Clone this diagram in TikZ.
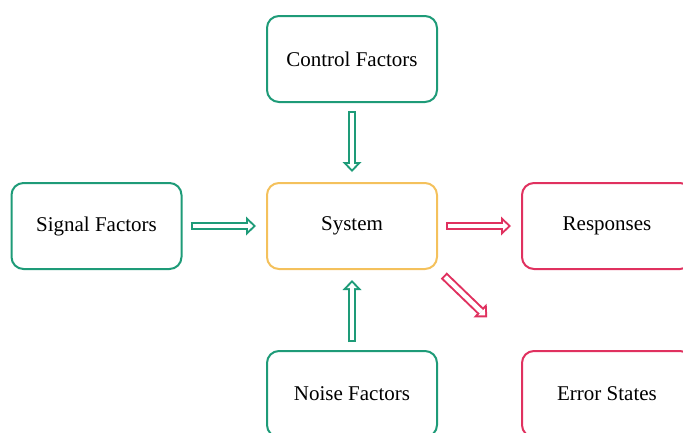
\documentclass[tikz,border=0pt]{standalone}
\usepackage{fontspec}
\setmainfont{Liberation Serif}
\usetikzlibrary{arrows.meta,positioning,calc}
\definecolor{cFactor}{HTML}{1E9B78}
\definecolor{cSystem}{HTML}{F4C15C}
\definecolor{cResult}{HTML}{E0315F}
\tikzset{
  box/.style   = {rectangle, rounded corners=12pt, draw=#1, line width=2pt,
                  minimum width=170pt, minimum height=86pt, align=center,
                  font=\fontsize{21}{24}\selectfont},
  box/.default = cFactor,
  fac/.style   = {box=cFactor},
  sys/.style   = {box=cSystem},
  res/.style   = {box=cResult},
  % hollow block arrow: coloured body, white inside
  dbl/.style   = {draw=#1, line width=8.6pt,
                  -{Triangle[length=10pt, width=19pt, line width=0pt]},
                  shorten <=8pt, shorten >=10pt,
                  postaction={draw=white, line width=4.6pt,
                    -{Triangle[length=5.1pt, width=9.7pt, line width=0pt]},
                    shorten <=10pt, shorten >=12.9pt}},
  dbl/.default = cFactor,
}
\begin{document}
\begin{tikzpicture}[x=1pt, y=-1pt]
  \useasboundingbox (0,0) rectangle (683,432);
  \clip (0,0) rectangle (683,432);

  \node[fac] (ctrl) at (352,59) {Control Factors};
  \node[fac] (sig) at (96.5,226) {Signal Factors};
  \node[sys] (sys) at (352,226) {System};
  \node[res] (resp) at (607,226) {Responses};
  \node[fac] (noise) at (352,394) {Noise Factors};
  \node[res] (err) at (607,394) {Error States};
  \coordinate (errhead) at ($(sys.south east)!0.68!(err.north west)$);

  \draw[dbl] (ctrl) -- (sys);
  \draw[dbl] (sig) -- (sys);
  \draw[dbl] (noise) -- (sys);
  \draw[dbl=cResult] (sys) -- (resp);
  \draw[dbl=cResult] (sys.south east) -- (errhead);
\end{tikzpicture}
\end{document}
